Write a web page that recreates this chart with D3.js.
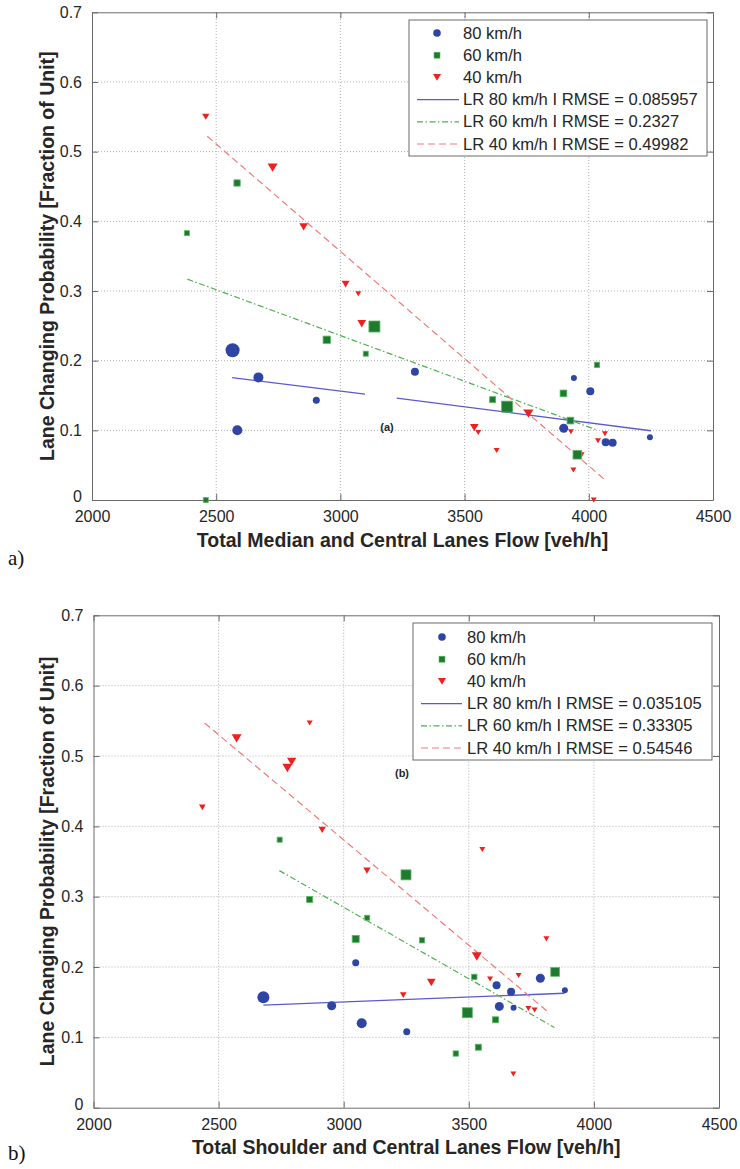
<!DOCTYPE html>
<html>
<head>
<meta charset="utf-8">
<script src="https://cdn.jsdelivr.net/npm/d3@7"></script>
<style>
  html, body { margin: 0; padding: 0; background: #fff; }
  svg { display: block; }
</style>
</head>
<body>
<svg id="chart" width="740" height="1169"></svg>
<script>
// ---------- shared axis data ----------
const xTicks = [2000, 2500, 3000, 3500, 4000, 4500];
const yTicks = [0, 0.1, 0.2, 0.3, 0.4, 0.5, 0.6, 0.7];
const yTickLabels = ["0", "0.1", "0.2", "0.3", "0.4", "0.5", "0.6", "0.7"];
const yTitle = "Lane Changing Probability [Fraction of Unit]";

// ---------- panel a ----------
const a80X = [2566, 2670, 2903, 2585, 3300, 3940, 4006, 3899, 4068, 4096, 4246];
const a80Y = [0.215, 0.176, 0.143, 0.100, 0.184, 0.175, 0.156, 0.103, 0.083, 0.082, 0.090];
const a80S = [14, 10, 7, 10, 8, 6, 8, 9, 8, 8, 6];

const a60X = [2584, 2382, 2945, 3102, 2458, 3137, 3613, 3671, 3898, 3926, 4033, 3954];
const a60Y = [0.455, 0.383, 0.230, 0.210, 0.000, 0.249, 0.144, 0.134, 0.153, 0.114, 0.194, 0.065];
const a60S = [6.3, 5, 7.3, 5, 5, 11, 6, 11, 6.7, 6.7, 5.3, 8.7];

const a40X = [2458, 2727, 2852, 3021, 3072, 3086, 3539, 3555, 3629, 3757, 3928, 3938, 3971, 4020, 4037, 4065];
const a40Y = [0.550, 0.477, 0.392, 0.310, 0.296, 0.253, 0.104, 0.097, 0.071, 0.124, 0.098, 0.043, 0.065, 0.000, 0.085, 0.095];
const a40S = [7.3, 10, 8.7, 8, 6, 8.7, 8.7, 6, 6, 10, 6, 6, 6, 6, 6, 6];

const a80FitX = [[2564, 3099], [3227, 4250]];
const a80FitY = [[0.1755, 0.152], [0.1463, 0.0994]];
const a60FitX = [2384, 4036];
const a60FitY = [0.317, 0.100];
const a40FitX = [2464, 4068];
const a40FitY = [0.522, 0.028];

const aLegend = ["80 km/h", "60 km/h", "40 km/h",
  "LR 80 km/h I RMSE = 0.085957", "LR 60 km/h I RMSE = 0.2327", "LR 40 km/h I RMSE = 0.49982"];
const aXTitle = "Total Median and Central Lanes Flow [veh/h]";

// ---------- panel b ----------
const b80X = [2679, 2952, 3072, 3048, 3252, 3611, 3622, 3669, 3679, 3786, 3884];
const b80Y = [0.157, 0.145, 0.120, 0.206, 0.108, 0.174, 0.144, 0.165, 0.142, 0.184, 0.167];
const b80S = [12, 9, 10, 7, 7, 8, 9, 8, 6, 9, 6];

const b60X = [2744, 2864, 3048, 3094, 3249, 3313, 3522, 3494, 3607, 3448, 3538, 3845];
const b60Y = [0.381, 0.296, 0.240, 0.270, 0.331, 0.238, 0.186, 0.135, 0.125, 0.077, 0.086, 0.193];
const b60S = [5, 6, 7, 5, 10, 5.3, 5.3, 10, 6, 5.3, 6, 8.7];

const b40X = [2435, 2572, 2864, 2775, 2792, 2914, 3093, 3554, 3238, 3350, 3532, 3585, 3699, 3738, 3763, 3678, 3810];
const b40Y = [0.427, 0.525, 0.547, 0.483, 0.492, 0.395, 0.337, 0.367, 0.160, 0.178, 0.215, 0.183, 0.188, 0.141, 0.139, 0.048, 0.240];
const b40S = [6.7, 10, 6, 10, 9.3, 7.3, 7.3, 6, 6.7, 8.7, 10, 6, 6, 6, 6, 6, 6];

const b80FitX = [[2679, 3882]];
const b80FitY = [[0.1457, 0.1627]];
const b60FitX = [2743, 3842];
const b60FitY = [0.337, 0.114];
const b40FitX = [2444, 3814];
const b40FitY = [0.547, 0.137];

const bLegend = ["80 km/h", "60 km/h", "40 km/h",
  "LR 80 km/h I RMSE = 0.035105", "LR 60 km/h I RMSE = 0.33305", "LR 40 km/h I RMSE = 0.54546"];
const bXTitle = "Total Shoulder and Central Lanes Flow [veh/h]";

// ---------- styles ----------
const C80 = "#2e45a6", C60 = "#1d7a2e", C60edge = "#5cb860", C40 = "#ee2020";
const L80 = "#5a5ad0", L60 = "#4fb04f", L40 = "#f27a7a";
const AXC = "#6a6a6a", TXT = "#262626";
const FONT = "'Liberation Sans', Arial, Helvetica, sans-serif";

const svg = d3.select("#chart");

function triPath(w) {
  const h = w * 0.42;
  return `M${-w / 2},${-h}L${w / 2},${-h}L0,${h}Z`;
}

function drawPanel(p) {
  const x = d3.scaleLinear().domain([2000, 4500]).range(p.xr);
  const y = d3.scaleLinear().domain([0, 0.7]).range(p.yr);
  const g = svg.append("g");
  const [x0, x1] = p.xr, [y0, y1] = p.yr;

  // grid
  g.selectAll(".gx").data(xTicks.slice(1, -1)).join("line")
    .attr("x1", d => x(d)).attr("x2", d => x(d)).attr("y1", y0).attr("y2", y1)
    .attr("stroke", "#b0b0b0").attr("stroke-width", 1).attr("stroke-dasharray", "1,2");
  g.selectAll(".gy").data(yTicks.slice(1, -1)).join("line")
    .attr("y1", d => y(d)).attr("y2", d => y(d)).attr("x1", x0).attr("x2", x1)
    .attr("stroke", "#b0b0b0").attr("stroke-width", 1).attr("stroke-dasharray", "1,2");

  // axes via d3
  const xAx = d3.axisBottom(x).tickValues(xTicks).tickSizeInner(-6).tickSizeOuter(0).tickPadding(11).tickFormat(d3.format("d"));
  const yAx = d3.axisLeft(y).tickValues(yTicks).tickSizeInner(-6).tickSizeOuter(0).tickPadding(10)
    .tickFormat((d, i) => yTickLabels[i]);
  const gx = g.append("g").attr("transform", `translate(0,${y0})`).call(xAx);
  const gy = g.append("g").attr("transform", `translate(${x0},0)`).call(yAx);
  [gx, gy].forEach(a => {
    a.select(".domain").attr("stroke", AXC);
    a.selectAll(".tick line").attr("stroke", AXC);
    a.selectAll(".tick text").attr("fill", TXT).style("font-family", FONT).style("font-size", "16px");
  });
  // lift the "0" label slightly so it does not collide with the first x label
  gy.selectAll(".tick text").filter((d, i) => i === 0).attr("dy", "0.1em");
  // top / right box + inward ticks
  const xTop = d3.axisTop(x).tickValues(xTicks).tickSizeInner(-6).tickSizeOuter(0).tickFormat("");
  const yRight = d3.axisRight(y).tickValues(yTicks).tickSizeInner(-6).tickSizeOuter(0).tickFormat("");
  const gt = g.append("g").attr("transform", `translate(0,${y1})`).call(xTop);
  const gr = g.append("g").attr("transform", `translate(${x1},0)`).call(yRight);
  [gt, gr].forEach(a => {
    a.select(".domain").attr("stroke", AXC);
    a.selectAll(".tick line").attr("stroke", AXC);
  });

  // fit lines
  const line = d3.line().x(d => x(d[0])).y(d => y(d[1]));
  p.fit80X.forEach((xs, i) => {
    g.append("path").datum(xs.map((v, j) => [v, p.fit80Y[i][j]]))
      .attr("d", line).attr("fill", "none").attr("stroke", L80).attr("stroke-width", 1.3);
  });
  g.append("path").datum(p.fit60X.map((v, j) => [v, p.fit60Y[j]]))
    .attr("d", line).attr("fill", "none").attr("stroke", L60).attr("stroke-width", 1.2)
    .attr("stroke-dasharray", "6,2.5,1.5,2.5");
  g.append("path").datum(p.fit40X.map((v, j) => [v, p.fit40Y[j]]))
    .attr("d", line).attr("fill", "none").attr("stroke", L40).attr("stroke-width", 1.2)
    .attr("stroke-dasharray", "7,4");

  // markers
  const d80 = p.x80.map((v, i) => ({ x: v, y: p.y80[i], s: p.s80[i] }));
  const d60 = p.x60.map((v, i) => ({ x: v, y: p.y60[i], s: p.s60[i] }));
  const d40 = p.x40.map((v, i) => ({ x: v, y: p.y40[i], s: p.s40[i] }));
  g.selectAll(".m40").data(d40).join("path")
    .attr("d", d => triPath(d.s)).attr("transform", d => `translate(${x(d.x)},${y(d.y)})`)
    .attr("fill", C40);
  g.selectAll(".m60").data(d60).join("rect")
    .attr("x", d => x(d.x) - d.s / 2).attr("y", d => y(d.y) - d.s / 2)
    .attr("width", d => d.s).attr("height", d => d.s)
    .attr("fill", C60).attr("stroke", C60edge).attr("stroke-width", 0.8);
  g.selectAll(".m80").data(d80).join("circle")
    .attr("cx", d => x(d.x)).attr("cy", d => y(d.y)).attr("r", d => d.s / 2)
    .attr("fill", C80);

  // panel tag inside plot
  g.append("text").attr("x", p.tag[1]).attr("y", p.tag[2]).text(p.tag[0])
    .attr("text-anchor", "middle").attr("dominant-baseline", "central")
    .style("font-family", FONT).style("font-weight", "bold").style("font-size", "11px").attr("fill", TXT);

  // legend
  const lg = g.append("g");
  const [bx, by, bw, bh] = p.legBox;
  lg.append("rect").attr("x", bx).attr("y", by).attr("width", bw).attr("height", bh)
    .attr("fill", "#fff").attr("stroke", AXC).attr("stroke-width", 1);
  const rows = p.legend.map((t, i) => ({ t, i, yy: p.legRow0 + i * p.legStep }));
  lg.selectAll(".lt").data(rows).join("text")
    .attr("x", p.legText).attr("y", d => d.yy).attr("dominant-baseline", "central")
    .text(d => d.t).style("font-family", FONT).style("font-size", "16.6px").attr("fill", TXT);
  const mx = p.legMark;
  lg.append("circle").attr("cx", mx).attr("cy", rows[0].yy).attr("r", 3.8).attr("fill", C80);
  lg.append("rect").attr("x", mx - 3).attr("y", rows[1].yy - 3).attr("width", 6).attr("height", 6)
    .attr("fill", C60).attr("stroke", C60edge).attr("stroke-width", 0.6);
  lg.append("path").attr("d", triPath(8)).attr("transform", `translate(${mx},${rows[2].yy})`).attr("fill", C40);
  const [lx1, lx2] = p.legLine;
  lg.append("line").attr("x1", lx1).attr("x2", lx2).attr("y1", rows[3].yy).attr("y2", rows[3].yy)
    .attr("stroke", L80).attr("stroke-width", 1.3);
  lg.append("line").attr("x1", lx1).attr("x2", lx2).attr("y1", rows[4].yy).attr("y2", rows[4].yy)
    .attr("stroke", L60).attr("stroke-width", 1.2).attr("stroke-dasharray", "6,2.5,1.5,2.5");
  lg.append("line").attr("x1", lx1).attr("x2", lx2).attr("y1", rows[5].yy).attr("y2", rows[5].yy)
    .attr("stroke", L40).attr("stroke-width", 1.2).attr("stroke-dasharray", "7,4");

  // axis titles
  g.append("text").attr("x", (x0 + x1) / 2).attr("y", p.xTitleY).attr("text-anchor", "middle")
    .text(p.xTitle).style("font-family", FONT).style("font-weight", "bold").style("font-size", "19.5px").attr("fill", TXT);
  g.append("text").attr("transform", `translate(47,${(y0 + y1) / 2}) rotate(-90)`)
    .attr("text-anchor", "middle").attr("dominant-baseline", "central")
    .text(yTitle).style("font-family", FONT).style("font-weight", "bold").style("font-size", "19.5px").attr("fill", TXT);

  // sub-figure label
  svg.append("text").attr("x", 8).attr("y", p.subY).text(p.sub)
    .style("font-family", "'Liberation Serif', 'DejaVu Serif', serif").style("font-size", "21px").attr("fill", "#111");
}

drawPanel({
  xr: [92, 713], yr: [500, 12.3],
  x80: a80X, y80: a80Y, s80: a80S, x60: a60X, y60: a60Y, s60: a60S, x40: a40X, y40: a40Y, s40: a40S,
  fit80X: a80FitX, fit80Y: a80FitY, fit60X: a60FitX, fit60Y: a60FitY, fit40X: a40FitX, fit40Y: a40FitY,
  legend: aLegend, legBox: [409, 20, 298, 136], legRow0: 33, legStep: 22.2, legText: 463, legMark: 437, legLine: [417, 459],
  tag: ["(a)", 387, 427], xTitle: aXTitle, xTitleY: 547, sub: "a)", subY: 565
});
drawPanel({
  xr: [93.5, 719], yr: [1107.7, 615.3],
  x80: b80X, y80: b80Y, s80: b80S, x60: b60X, y60: b60Y, s60: b60S, x40: b40X, y40: b40Y, s40: b40S,
  fit80X: b80FitX, fit80Y: b80FitY, fit60X: b60FitX, fit60Y: b60FitY, fit40X: b40FitX, fit40Y: b40FitY,
  legend: bLegend, legBox: [413, 623, 299, 137], legRow0: 637, legStep: 22.2, legText: 467, legMark: 442, legLine: [421, 462],
  tag: ["(b)", 402, 773], xTitle: bXTitle, xTitleY: 1154, sub: "b)", subY: 1160
});
</script>
</body>
</html>
